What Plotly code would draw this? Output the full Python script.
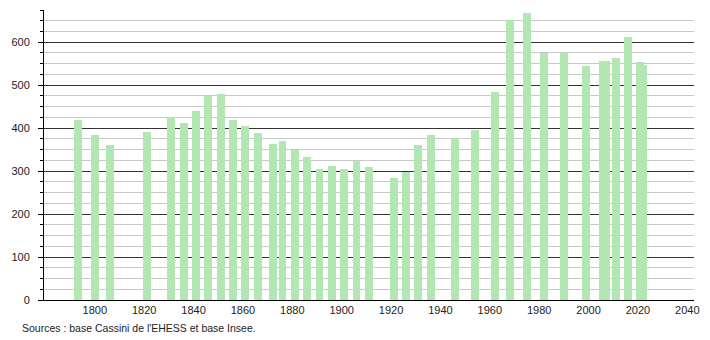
import plotly.graph_objects as go

years = [1793, 1800, 1806, 1821, 1831, 1836, 1841, 1846, 1851, 1856, 1861, 1866,
         1872, 1876, 1881, 1886, 1891, 1896, 1901, 1906, 1911, 1921, 1926, 1931,
         1936, 1946, 1954, 1962, 1968, 1975, 1982, 1990, 1999, 2006, 2007, 2011,
         2016, 2021, 2022]
population = [420, 383, 360, 392, 427, 411, 441, 476, 479, 420, 404, 388,
              362, 369, 348, 332, 304, 313, 306, 323, 310, 285, 299, 360,
              383, 378, 395, 483, 651, 668, 574, 574, 544, 556, 556, 563,
              612, 553, 546]
x_ticks = [1800, 1820, 1840, 1860, 1880, 1900, 1920, 1940, 1960, 1980, 2000, 2020, 2040]
source_text = "Sources : base Cassini de l'EHESS et base Insee."

fig = go.Figure()
fig.add_trace(go.Bar(
    x=years, y=population, width=3.2,
    marker=dict(color="#b2e6b2", line=dict(width=0)),
    hoverinfo="x+y",
))

font = dict(family="Liberation Sans, Arial, sans-serif", size=11, color="#222")

fig.update_layout(
    width=710, height=340,
    margin=dict(l=44, r=10, t=10, b=40),
    paper_bgcolor="white", plot_bgcolor="white",
    showlegend=False, font=font, bargap=0,
    xaxis=dict(
        range=[1779.4, 2042.7], tickvals=x_ticks, ticktext=[str(t) for t in x_ticks],
        showgrid=False, zeroline=False, showline=True, linecolor="black", linewidth=1,
        ticks="", tickfont=font,
    ),
    yaxis=dict(
        range=[0, 675], dtick=100, tick0=0,
        showgrid=True, gridcolor="#333333", gridwidth=1,
        zeroline=False, showline=True, linecolor="black", linewidth=1,
        ticks="outside", ticklen=5, tickcolor="black", tickwidth=1,
        tickfont=font, ticklabelstandoff=6,
        minor=dict(dtick=25, showgrid=True, gridcolor="#c8c8c8", gridwidth=1,
                   ticks="outside", ticklen=3, tickcolor="black"),
    ),
    annotations=[dict(
        text=source_text, xref="paper", yref="paper",
        x=(20 - 44) / 656, y=(300 - 328) / 290, xanchor="left", yanchor="middle",
        showarrow=False, font=dict(family="Liberation Sans, Arial, sans-serif", size=10.5, color="#222"),
    )],
)

fig.write_html("out.html")
